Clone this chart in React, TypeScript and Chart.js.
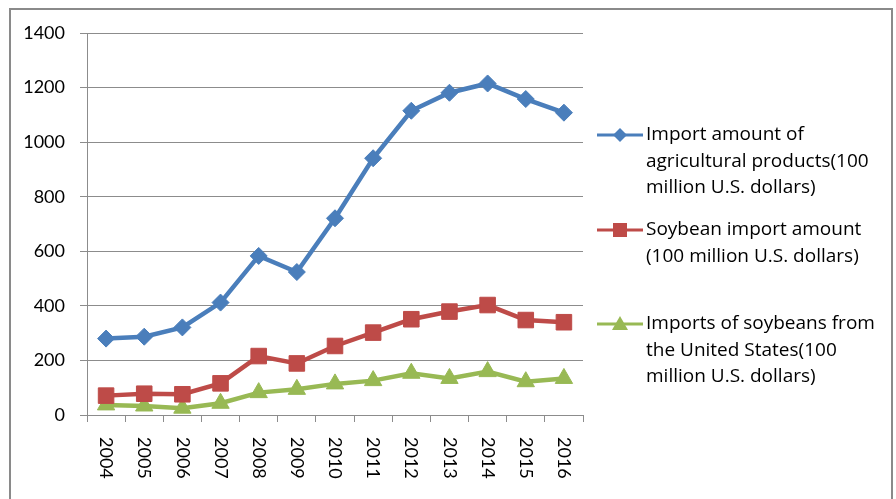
import React, { useEffect, useRef } from "react";
import { Chart, registerables } from "chart.js";

Chart.register(...registerables);

const years = ["2004", "2005", "2006", "2007", "2008", "2009", "2010", "2011", "2012", "2013", "2014", "2015", "2016"];
const agriImports = [280, 287, 321, 412, 583, 524, 721, 941, 1115, 1181, 1215, 1158, 1108];
const soybeanImports = [71, 78, 76, 116, 216, 189, 253, 302, 351, 379, 403, 348, 340];
const usSoybeanImports = [37, 33, 25, 43, 82, 94, 114, 126, 153, 134, 159, 122, 134];
const yTicks = [0, 200, 400, 600, 800, 1000, 1200, 1400];

const legendLines = [
  ["Import amount of", "agricultural products(100", "million U.S. dollars)"],
  ["Soybean import amount", "(100 million U.S. dollars)"],
  ["Imports of soybeans from", "the United States(100", "million U.S. dollars)"],
];

const BLUE = "#4a7ebb";
const RED = "#be4b48";
const GREEN = "#98b954";
const AXIS_FONT = "Lato, 'Open Sans', sans-serif";
const LEGEND_FONT = "'Open Sans', Lato, sans-serif";
const GRID = "#8c8c8c";

function drawMarker(ctx: CanvasRenderingContext2D, style: string, x: number, y: number, color: string) {
  ctx.save();
  ctx.fillStyle = color;
  ctx.beginPath();
  if (style === "rectRot") {
    const r = 7;
    ctx.moveTo(x - r, y);
    ctx.lineTo(x, y - r);
    ctx.lineTo(x + r, y);
    ctx.lineTo(x, y + r);
  } else if (style === "rect") {
    ctx.rect(x - 7, y - 7, 14, 14);
  } else {
    ctx.moveTo(x, y - 8);
    ctx.lineTo(x + 8, y + 6);
    ctx.lineTo(x - 8, y + 6);
  }
  ctx.closePath();
  ctx.fill();
  ctx.restore();
}

// Outer frame, rotated year labels and the wrapped legend on the right.
const decorations = {
  id: "decorations",
  beforeDraw(chart: any) {
    const ctx = chart.ctx as CanvasRenderingContext2D;
    ctx.save();
    ctx.fillStyle = "#ffffff";
    ctx.fillRect(0, 0, chart.width, chart.height);
    ctx.strokeStyle = "#8a8a8a";
    ctx.lineWidth = 2;
    ctx.strokeRect(10, 9, 882, 510);
    ctx.restore();
  },
  afterDraw(chart: any) {
    const ctx = chart.ctx as CanvasRenderingContext2D;
    const xScale = chart.scales.x;
    ctx.save();
    ctx.fillStyle = "#000000";
    ctx.font = `18px ${AXIS_FONT}`;
    ctx.textAlign = "left";
    ctx.textBaseline = "middle";
    years.forEach((label, i) => {
      const x = xScale.getPixelForValue(i);
      ctx.save();
      ctx.translate(x, chart.chartArea.bottom + 22);
      ctx.rotate(Math.PI / 2);
      ctx.fillText(label, 0, 0);
      ctx.restore();
    });

    const entryY = [135, 230, 324];
    const lineGap = 26.5;
    ctx.font = `19px ${LEGEND_FONT}`;
    chart.data.datasets.forEach((ds: any, i: number) => {
      const y = entryY[i];
      ctx.save();
      ctx.strokeStyle = ds.borderColor;
      ctx.lineWidth = 3;
      ctx.beginPath();
      ctx.moveTo(597, y);
      ctx.lineTo(643, y);
      ctx.stroke();
      ctx.restore();
      drawMarker(ctx, ds.pointStyle, 620, y, ds.borderColor);
      ctx.fillStyle = "#000000";
      legendLines[i].forEach((t, j) => ctx.fillText(t, 646, y + j * lineGap));
    });
    ctx.restore();
  },
};

export default function App() {
  const canvasRef = useRef<HTMLCanvasElement | null>(null);

  useEffect(() => {
    if (!canvasRef.current) return;
    const chart = new Chart(canvasRef.current, {
      type: "line",
      data: {
        labels: years,
        datasets: [
          {
            label: legendLines[0].join(" "),
            data: agriImports,
            borderColor: BLUE,
            backgroundColor: BLUE,
            borderWidth: 4.5,
            pointStyle: "rectRot",
            pointRadius: 8.5,
            pointBorderWidth: 1,
          },
          {
            label: legendLines[1].join(" "),
            data: soybeanImports,
            borderColor: RED,
            backgroundColor: RED,
            borderWidth: 4.5,
            pointStyle: "rect",
            pointRadius: 11,
            pointBorderWidth: 1,
          },
          {
            label: legendLines[2].join(" "),
            data: usSoybeanImports,
            borderColor: GREEN,
            backgroundColor: GREEN,
            borderWidth: 4.5,
            pointStyle: "triangle",
            pointRadius: 10,
            pointBorderWidth: 1,
          },
        ],
      },
      options: {
        responsive: false,
        animation: false,
        layout: { padding: { left: 0, top: 33, right: 313, bottom: 14 } },
        plugins: {
          legend: { display: false },
          tooltip: { enabled: false },
        },
        scales: {
          x: {
            offset: true,
            afterFit: (scale: any) => {
              scale.height = 70;
            },
            grid: {
              offset: true,
              drawOnChartArea: false,
              drawTicks: true,
              tickLength: 7,
              color: GRID,
            },
            border: { color: GRID, width: 1 },
            ticks: { display: false },
          },
          y: {
            min: 0,
            max: 1400,
            afterFit: (scale: any) => {
              scale.width = 87;
            },
            afterBuildTicks: (scale: any) => {
              scale.ticks = yTicks.map((v) => ({ value: v }));
            },
            grid: { color: GRID, tickLength: 7, drawTicks: true },
            border: { color: GRID, width: 1 },
            ticks: {
              padding: 15,
              color: "#000000",
              font: { family: AXIS_FONT, size: 18 },
              callback: (value: any) => String(value),
            },
          },
        },
      },
      plugins: [decorations],
    });
    return () => chart.destroy();
  }, []);

  return (
    <canvas
      ref={canvasRef}
      width={896}
      height={499}
      style={{ position: "absolute", left: 0, top: 0, display: "block" }}
    />
  );
}
